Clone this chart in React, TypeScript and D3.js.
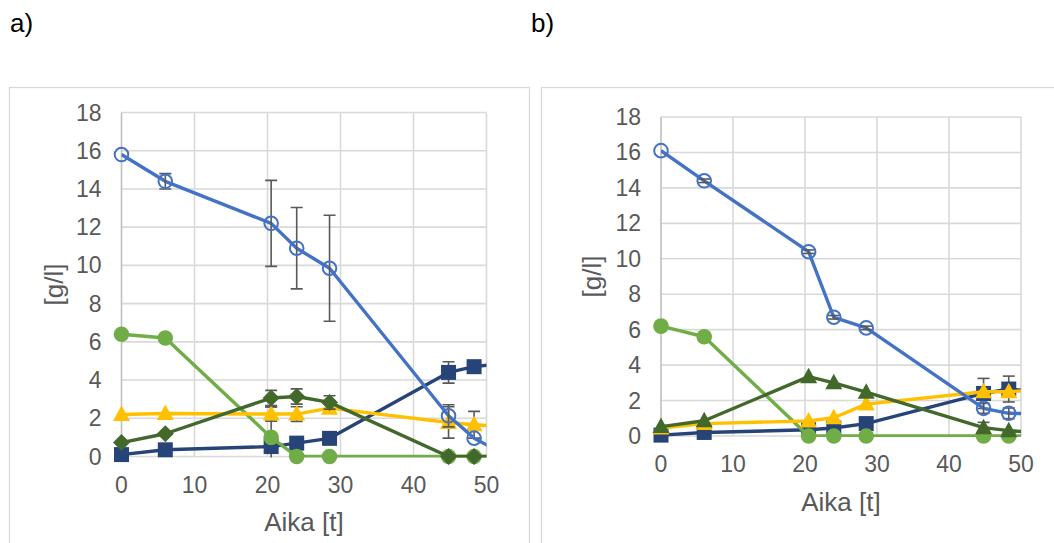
import React from "react";
import * as d3 from "d3";

// Sampling times [t]; the last sample lies past the axis end and is clipped.
const times = [0, 6, 20.5, 24, 28.5, 44.8, 48.3, 52];

// Panel a)
const aSubstrate = [15.8, 14.4, 12.2, 10.9, 9.85, 2.13, 0.96, 0.2];
const aSubstrateErr = [0, 0.4, 2.25, 2.13, 2.77, 0.58, 0, 0];
const aProduct = [0.1, 0.35, 0.52, 0.7, 0.95, 4.4, 4.7, 4.85];
const aProductErr = [0, 0, 2.07, 0, 0, 0.56, 0, 0];
const aSugar = [6.4, 6.2, 1.0, 0, 0, 0, 0, 0];
const aSugarErr = [0, 0, 0, 0, 0, 0, 0, 0];
const aYellow = [2.2, 2.25, 2.22, 2.22, 2.53, 1.78, 1.66, 1.58];
const aYellowErr = [0, 0, 0.37, 0.38, 0, 0.82, 0.7, 0];
const aByproduct = [0.73, 1.19, 3.06, 3.14, 2.83, 0, 0, 0];
const aByproductErr = [0, 0, 0.4, 0.4, 0.35, 0, 0, 0];

// Panel b)
const bSubstrate = [16.1, 14.4, 10.4, 6.7, 6.1, 1.56, 1.28, 1.25];
const bSubstrateErr = [0, 0.1, 0.1, 0.1, 0.1, 0.28, 0.3, 0];
const bProduct = [0.05, 0.2, 0.35, 0.45, 0.7, 2.4, 2.65, 2.5];
const bProductErr = [0, 0, 0, 0, 0, 0.85, 0.73, 0];
const bSugar = [6.2, 5.6, 0, 0, 0, 0, 0, 0];
const bSugarErr = [0, 0, 0, 0, 0, 0, 0, 0];
const bYellow = [0.45, 0.7, 0.85, 1.03, 1.8, 2.5, 2.5, 2.6];
const bYellowErr = [0, 0, 0, 0, 0, 0, 0, 0];
const bByproduct = [0.53, 0.86, 3.35, 3.0, 2.47, 0.47, 0.3, 0.2];
const bByproductErr = [0, 0, 0, 0, 0, 0.3, 0, 0];

const xTicks = [0, 10, 20, 30, 40, 50];
const yTicks = [0, 2, 4, 6, 8, 10, 12, 14, 16, 18];

const C_BLUE = "#4472C4";
const C_NAVY = "#264478";
const C_GREEN = "#70AD47";
const C_YELLOW = "#FFC000";
const C_DKGREEN = "#43682B";
const C_GRID = "#d9d9d9";
const C_TEXT = "#595959";
const FONT = "Arial, 'Liberation Sans', sans-serif";

type Marker = "openCircle" | "square" | "circle" | "triangle" | "diamond";

interface Series {
  key: string;
  values: number[];
  errors: number[];
  color: string;
  marker: Marker;
}

interface PanelProps {
  id: string;
  label: string;
  labelX: number;
  box: [number, number, number];
  plot: { left: number; right: number; top: number; bottom: number };
  xTickBaseline: number;
  xTitleBaseline: number;
  yTitleX: number;
  series: Series[];
}

function markerShape(m: Marker, cx: number, cy: number, color: string, key: string) {
  switch (m) {
    case "openCircle":
      return <circle key={key} cx={cx} cy={cy} r={6.8} fill="none" stroke={color} strokeWidth={2} />;
    case "circle":
      return <circle key={key} cx={cx} cy={cy} r={7.8} fill={color} />;
    case "square":
      return <rect key={key} x={cx - 7.5} y={cy - 7.5} width={15} height={15} fill={color} />;
    case "triangle":
      return (
        <path key={key} d={`M${cx},${cy - 9}L${cx + 8.5},${cy + 6.5}L${cx - 8.5},${cy + 6.5}Z`} fill={color} />
      );
    case "diamond":
      return (
        <path key={key} d={`M${cx},${cy - 8.5}L${cx + 8.5},${cy}L${cx},${cy + 8.5}L${cx - 8.5},${cy}Z`} fill={color} />
      );
  }
}

function Panel(p: PanelProps) {
  const { plot } = p;
  const x = d3.scaleLinear().domain([0, 50]).range([plot.left, plot.right]);
  const y = d3.scaleLinear().domain([0, 18]).range([plot.bottom, plot.top]);
  const line = d3
    .line<number>()
    .x((_, i) => x(times[i]))
    .y((v) => y(v));
  const clipId = `clip-${p.id}`;
  const inRange = (i: number) => times[i] <= 50;

  return (
    <g>
      <rect x={p.box[0]} y={p.box[1]} width={p.box[2]} height={600} fill="#ffffff" stroke={C_GRID} strokeWidth={1.3} />
      <text x={p.labelX} y={32} fontFamily={FONT} fontSize={26} fill="#000000">
        {p.label}
      </text>
      <defs>
        <clipPath id={clipId}>
          <rect x={plot.left} y={plot.top - 1} width={plot.right - plot.left} height={plot.bottom - plot.top + 2} />
        </clipPath>
      </defs>
      {yTicks.map((t) => (
        <line key={`gy${t}`} x1={plot.left} x2={plot.right} y1={y(t)} y2={y(t)} stroke={C_GRID} strokeWidth={1.6} />
      ))}
      {xTicks.map((t) => (
        <line key={`gx${t}`} x1={x(t)} x2={x(t)} y1={plot.top} y2={plot.bottom} stroke={t === 0 ? "#bfbfbf" : C_GRID} strokeWidth={1.6} />
      ))}
      {yTicks.map((t) => (
        <text key={`ty${t}`} x={plot.left - 20} y={y(t) + 8} textAnchor="end" fontFamily={FONT} fontSize={23} fill={C_TEXT}>
          {t}
        </text>
      ))}
      {xTicks.map((t) => (
        <text key={`tx${t}`} x={x(t)} y={p.xTickBaseline} textAnchor="middle" fontFamily={FONT} fontSize={23} fill={C_TEXT}>
          {t}
        </text>
      ))}
      <text x={(plot.left + plot.right) / 2} y={p.xTitleBaseline} textAnchor="middle" fontFamily={FONT} fontSize={26} fill={C_TEXT}>
        Aika [t]
      </text>
      <text
        transform={`translate(${p.yTitleX},${(plot.top + plot.bottom) / 2}) rotate(-90)`}
        textAnchor="middle"
        dominantBaseline="central"
        fontFamily={FONT}
        fontSize={26}
        fill={C_TEXT}
      >
        [g/l]
      </text>
      {p.series.map((s) => (
        <g key={s.key}>
          <path d={line(s.values) || ""} fill="none" stroke={s.color} strokeWidth={3.4} strokeLinejoin="round" clipPath={`url(#${clipId})`} />
          <g stroke="#595959" strokeWidth={1.6} clipPath={`url(#${clipId})`}>
            {s.values.map((v, i) =>
              s.errors[i] > 0 && inRange(i) ? (
                <g key={i}>
                  <line x1={x(times[i])} x2={x(times[i])} y1={y(v + s.errors[i])} y2={y(v - s.errors[i])} />
                  <line x1={x(times[i]) - 6} x2={x(times[i]) + 6} y1={y(v + s.errors[i])} y2={y(v + s.errors[i])} />
                  <line x1={x(times[i]) - 6} x2={x(times[i]) + 6} y1={y(v - s.errors[i])} y2={y(v - s.errors[i])} />
                </g>
              ) : null
            )}
          </g>
          {s.values.map((v, i) => (inRange(i) ? markerShape(s.marker, x(times[i]), y(v), s.color, `${s.key}${i}`) : null))}
        </g>
      ))}
    </g>
  );
}

export default function App() {
  const seriesA: Series[] = [
    { key: "prod", values: aProduct, errors: aProductErr, color: C_NAVY, marker: "square" },
    { key: "sugar", values: aSugar, errors: aSugarErr, color: C_GREEN, marker: "circle" },
    { key: "yellow", values: aYellow, errors: aYellowErr, color: C_YELLOW, marker: "triangle" },
    { key: "by", values: aByproduct, errors: aByproductErr, color: C_DKGREEN, marker: "diamond" },
    { key: "sub", values: aSubstrate, errors: aSubstrateErr, color: C_BLUE, marker: "openCircle" },
  ];
  const seriesB: Series[] = [
    { key: "prod", values: bProduct, errors: bProductErr, color: C_NAVY, marker: "square" },
    { key: "sugar", values: bSugar, errors: bSugarErr, color: C_GREEN, marker: "circle" },
    { key: "yellow", values: bYellow, errors: bYellowErr, color: C_YELLOW, marker: "triangle" },
    { key: "by", values: bByproduct, errors: bByproductErr, color: C_DKGREEN, marker: "triangle" },
    { key: "sub", values: bSubstrate, errors: bSubstrateErr, color: C_BLUE, marker: "openCircle" },
  ];
  return (
    <svg
      width={1054}
      height={543}
      style={{ position: "absolute", left: 0, top: 0, background: "#ffffff" }}
    >
      <rect width={1054} height={543} fill="#ffffff" />
      <Panel
        id="a"
        label="a)"
        labelX={10}
        box={[9.5, 87.5, 520]}
        plot={{ left: 121.5, right: 486.5, top: 112.5, bottom: 456.5 }}
        xTickBaseline={493}
        xTitleBaseline={531}
        yTitleX={54}
        series={seriesA}
      />
      <Panel
        id="b"
        label="b)"
        labelX={531}
        box={[541.5, 87.5, 600]}
        plot={{ left: 661, right: 1021, top: 117, bottom: 436 }}
        xTickBaseline={472}
        xTitleBaseline={511}
        yTitleX={592}
        series={seriesB}
      />
    </svg>
  );
}
